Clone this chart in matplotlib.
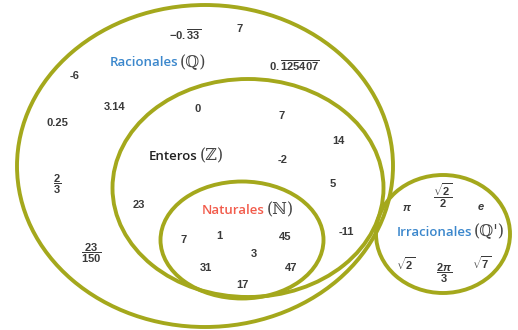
import matplotlib
matplotlib.use("Agg")
import matplotlib.pyplot as plt
from matplotlib.patches import Ellipse

plt.rcParams['font.family'] = ['Liberation Sans', 'DejaVu Sans']
plt.rcParams['mathtext.fontset'] = 'custom'
plt.rcParams['mathtext.rm'] = 'Liberation Sans:bold'
plt.rcParams['mathtext.it'] = 'Liberation Sans:italic:bold'
plt.rcParams['mathtext.bf'] = 'Liberation Sans:bold'

# Conjuntos y sus elementos
set_names = ['Racionales', 'Enteros', 'Naturales', 'Irracionales']
set_symbols = ['(ℚ)', '(ℤ)', '(ℕ)', "(ℚ')"]

racionales = [r'$-0.\overline{33}$', '7', r'$0.\overline{125407}$', '-6', '3.14',
              '0.25', r'$\dfrac{2}{3}$', r'$\dfrac{23}{150}$']
enteros = ['0', '7', '14', '-2', '5', '23', '-11']
naturales = ['7', '1', '45', '3', '31', '47', '17']
irracionales = [r'$\pi$', r'$\dfrac{\sqrt{2}}{2}$', r'$e$', r'$\sqrt{2}$',
                r'$\dfrac{2\pi}{3}$', r'$\sqrt{7}$']

# posiciones (pixeles de la imagen)
pos_racionales = [(185, 35), (240, 29), (294, 66), (75, 76), (115, 107),
                  (57, 123), (57, 184), (91, 253)]
pos_enteros = [(198, 109), (282, 116), (338, 141), (283, 160), (333, 184),
               (139, 205), (346, 232)]
pos_naturales = [(184, 240), (219, 236), (285, 237), (254, 254), (206, 268),
                 (291, 268), (242, 285)]
pos_irracionales = [(407, 208), (443, 196), (481, 207), (406, 264),
                    (444, 273), (482, 263)]

# punto de union entre nombre y simbolo
label_pos = [(179, 63), (199, 156), (266, 210), (473, 232)]
label_colors = ['#3b87cc', '#222222', '#f25c4c', '#3b87cc']

# elipses: centro, ancho, alto
shapes = [((205, 166), 376, 322),
          ((248, 188), 271, 218),
          ((242, 240), 163, 117),
          ((443, 234), 134, 118)]

line_color = '#a4a81c'
text_color = '#3a3a3a'

fig = plt.figure(figsize=(5.18, 3.30), dpi=100)
ax = fig.add_axes([0, 0, 1, 1])
ax.set_xlim(0, 518)
ax.set_ylim(330, 0)
ax.axis('off')

for center, w, h in shapes:
    ax.add_patch(Ellipse(center, w, h, fill=False, ec=line_color, lw=2.8))

for items, positions in [(racionales, pos_racionales), (enteros, pos_enteros),
                         (naturales, pos_naturales), (irracionales, pos_irracionales)]:
    for s, (x, y) in zip(items, positions):
        ax.text(x, y, s, ha='center', va='center', fontsize=8, color=text_color,
                fontweight='bold')

for name, sym, (x, y), col in zip(set_names, set_symbols, label_pos, label_colors):
    ax.text(x - 1, y, name, ha='right', va='center', fontsize=9.5,
            color=col, family=['Open Sans', 'DejaVu Sans'], fontweight='semibold')
    ax.text(x + 1, y, sym, ha='left', va='center', fontsize=11.5, color='#444444',
            family=['DejaVu Serif', 'DejaVu Sans'])

fig.savefig('out.png', dpi=100)
